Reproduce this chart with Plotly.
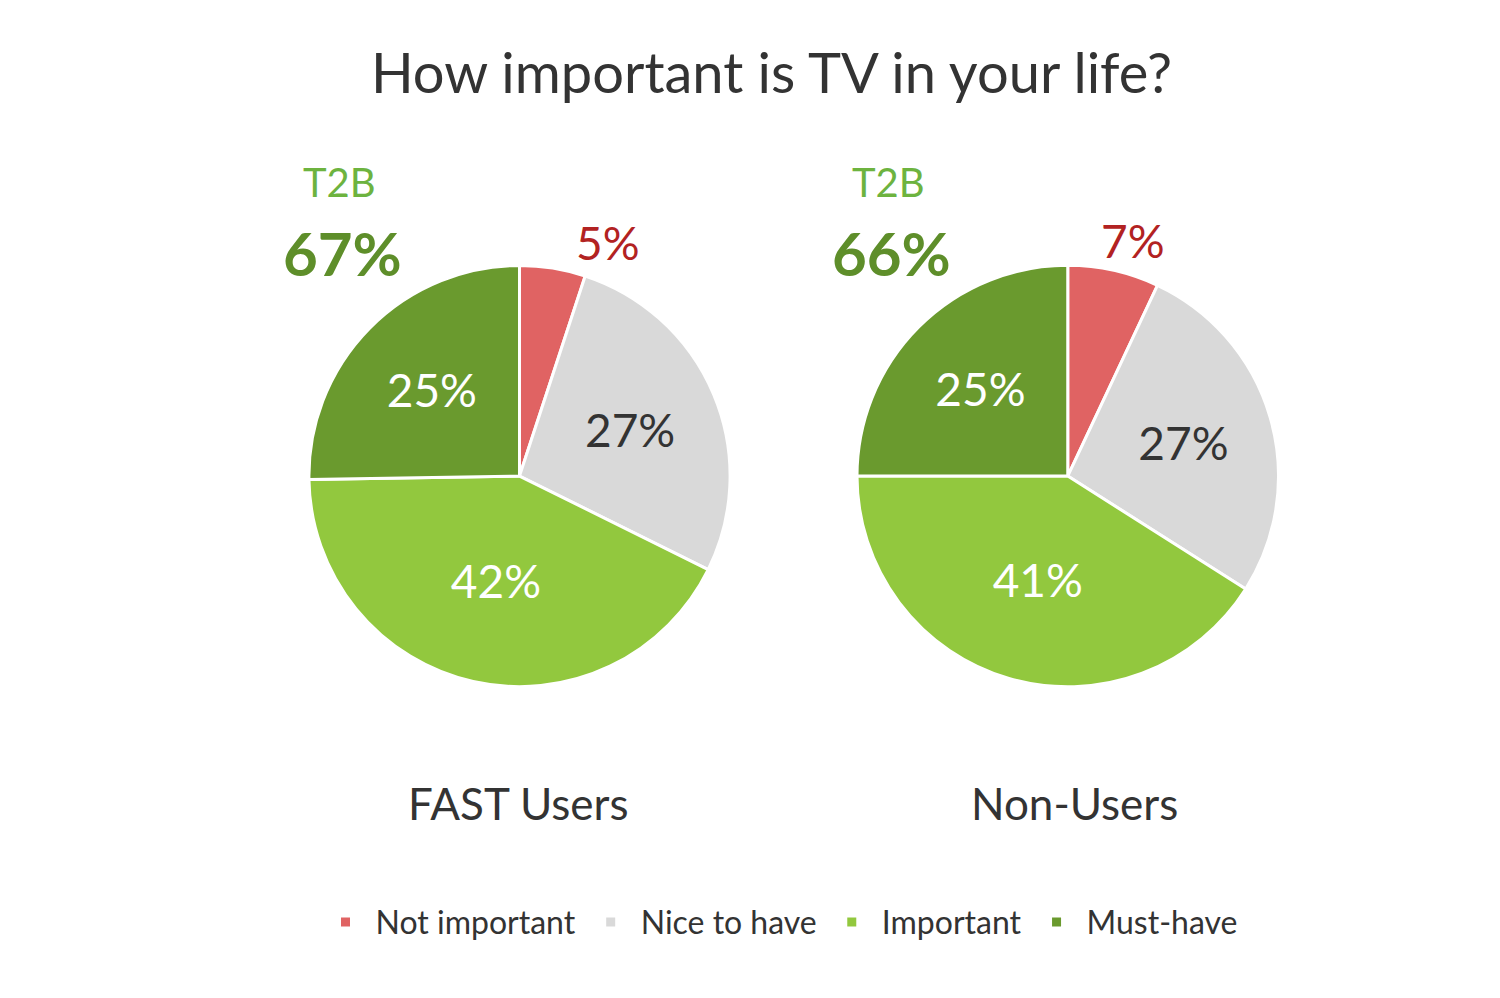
import plotly.graph_objects as go

categories = ["Not important", "Nice to have", "Important", "Must-have"]
fast_users = [5, 27, 42, 25]
non_users = [7, 27, 41, 25]
t2b = [67, 66]
groups = ["FAST Users", "Non-Users"]
colors = ["#E06363", "#D9D9D9", "#92C83E", "#6A9A2E"]
FONT = "Lato, DejaVu Sans, sans-serif"

fig = go.Figure()
domains = [dict(x=[0.200, 0.482], y=[0.320, 0.742]), dict(x=[0.566, 0.847], y=[0.316, 0.746])]
for vals, dom in zip([fast_users, non_users], domains):
    fig.add_trace(go.Pie(
        labels=categories, values=vals, sort=False, direction="clockwise", rotation=0,
        domain=dom, marker=dict(colors=colors, line=dict(color="white", width=3)),
        text=[""] + [f"{v}%" for v in vals[1:]], textinfo="text",
        textposition="inside", insidetextorientation="horizontal",
        insidetextfont=dict(family=FONT, size=46, color=["white", "#333333", "white", "white"]),
        hoverinfo="label+value", showlegend=True))

ann = [
    dict(x=0.400, y=0.765, text=f"{fast_users[0]}%", font=dict(size=46, color="#B22222")),
    dict(x=0.750, y=0.767, text=f"{non_users[0]}%", font=dict(size=46, color="#B22222")),
    dict(x=0.221, y=0.826, text="T2B", font=dict(size=40, color="#6DB33F")),
    dict(x=0.587, y=0.826, text="T2B", font=dict(size=40, color="#6DB33F")),
    dict(x=0.223, y=0.755, text=f"<b>{t2b[0]}%</b>", font=dict(size=60, color="#5E8E2A")),
    dict(x=0.589, y=0.755, text=f"<b>{t2b[1]}%</b>", font=dict(size=60, color="#5E8E2A")),
    dict(x=0.340, y=0.203, text=groups[0], font=dict(size=44, color="#333333")),
    dict(x=0.711, y=0.203, text=groups[1], font=dict(size=44, color="#333333")),
]
for a in ann:
    a.update(xref="paper", yref="paper", showarrow=False, xanchor="center", yanchor="middle")
    a["font"]["family"] = FONT

fig.update_layout(
    width=1500, height=998, margin=dict(l=0, r=0, t=0, b=0),
    paper_bgcolor="white", plot_bgcolor="white",
    title=dict(text="How important is TV in your life?", x=0.509, y=0.934, xanchor="center", yanchor="middle",
               font=dict(family=FONT, size=56, color="#333333")),
    legend=dict(orientation="h", x=0.514, y=0.084, xanchor="center", yanchor="middle",
                font=dict(family=FONT, size=32, color="#333333"), itemwidth=50, traceorder="normal"),
    annotations=ann,
)
fig.write_html("out.html")
